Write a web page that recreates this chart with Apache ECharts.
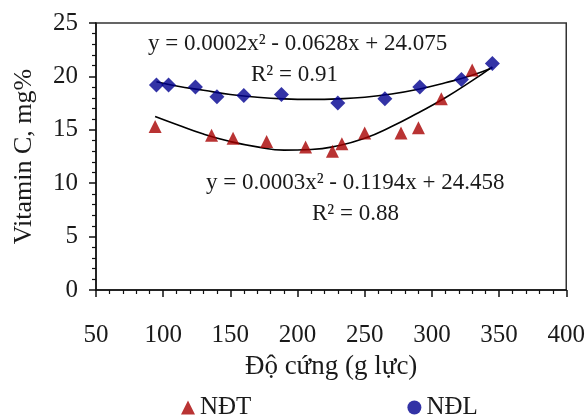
<!DOCTYPE html>
<html>
<head>
<meta charset="utf-8">
<script src="https://cdn.jsdelivr.net/npm/echarts@6/dist/echarts.min.js"></script>
<style>html,body{margin:0;padding:0;background:#fff}#c{width:588px;height:419px}</style>
</head>
<body>
<div id="c"></div>
<script>
// NĐT (red triangles) measured points [hardness, vitamin C]
var ndtX = [94, 136, 152, 177, 206, 226, 233, 250, 277, 290, 307, 330];
var ndtY = [15.3, 14.5, 14.2, 13.9, 13.4, 13.0, 13.7, 14.7, 14.7, 15.2, 17.9, 20.6];
// NĐL (blue diamonds)
var ndlX = [95, 104, 124, 140, 160, 188, 230, 265, 291, 322, 345];
var ndlY = [19.2, 19.2, 19.0, 18.1, 18.2, 18.3, 17.5, 17.9, 19.0, 19.7, 21.2];
// Trend curves
var trendNdtX = [94, 110, 130, 150, 170, 190, 210, 230, 250, 270, 290, 310, 330, 345];
var trendNdtY = [16.25, 15.5, 14.6, 13.9, 13.4, 13.1, 13.15, 13.5, 14.2, 15.3, 16.6, 18.0, 19.6, 20.9];
var trendNdlX = [95, 110, 130, 150, 170, 190, 210, 230, 250, 270, 290, 310, 330, 345];
var trendNdlY = [19.5, 19.1, 18.7, 18.3, 18.05, 17.9, 17.85, 17.9, 18.05, 18.35, 18.8, 19.4, 20.1, 20.8];
var xTicks = [50, 100, 150, 200, 250, 300, 350, 400];
var yTicks = [0, 5, 10, 15, 20, 25];
var eqNdl = 'y = 0.0002x² - 0.0628x + 24.075';
var r2Ndl = 'R² = 0.91';
var eqNdt = 'y = 0.0003x² - 0.1194x + 24.458';
var r2Ndt = 'R² = 0.88';

function pairs(xs, ys){ return xs.map(function(x,i){ return [x, ys[i]]; }); }

var FONT = '"Liberation Serif", "Times New Roman", serif';
var TXT = '#1a1a1a';
var RED = '#A80000', BLUE = '#000090';
var chart = echarts.init(document.getElementById('c'));
chart.setOption({
  animation: false,
  textStyle: { fontFamily: FONT, color: TXT },
  grid: { left: 96, top: 23, width: 471, height: 267, show: true, borderColor: '#333', borderWidth: 1.5, backgroundColor: 'transparent' },
  xAxis: {
    type: 'value', min: xTicks[0], max: xTicks[xTicks.length-1], interval: 50,
    name: 'Độ cứng (g lực)', nameLocation: 'middle', nameGap: 63,
    nameTextStyle: { fontFamily: FONT, fontSize: 27, color: TXT },
    axisLine: { lineStyle: { color: '#111', width: 1.5 } },
    axisTick: { length: 7, lineStyle: { color: '#111', width: 1.5 } },
    minorTick: { show: true, splitNumber: 5, length: 4, lineStyle: { color: '#111', width: 1.2 } },
    axisLabel: { fontFamily: FONT, fontSize: 25, color: TXT, margin: 33 },
    splitLine: { show: false }
  },
  yAxis: {
    type: 'value', min: yTicks[0], max: yTicks[yTicks.length-1], interval: 5,
    name: 'Vitamin C, mg%', nameLocation: 'middle', nameGap: 59, nameRotate: 90,
    nameTextStyle: { fontFamily: FONT, fontSize: 26, color: TXT },
    axisLine: { show: true, lineStyle: { color: '#111', width: 1.5 } },
    axisTick: { show: true, length: 7, lineStyle: { color: '#111', width: 1.5 } },
    minorTick: { show: true, splitNumber: 5, length: 4, lineStyle: { color: '#111', width: 1.2 } },
    axisLabel: { fontFamily: FONT, fontSize: 25, color: TXT, margin: 18 },
    splitLine: { show: false }
  },
  legend: {
    left: 176, top: 390, itemGap: 156, itemWidth: 14, itemHeight: 14,
    textStyle: { fontFamily: FONT, fontSize: 25, color: TXT },
    data: [{ name: 'NĐT', icon: 'triangle' }, { name: 'NĐL', icon: 'circle' }]
  },
  graphic: [
    { type: 'text', left: 148, top: 32, style: { text: eqNdl, font: '23px ' + FONT, fill: TXT } },
    { type: 'text', left: 251, top: 63, style: { text: r2Ndl, font: '23px ' + FONT, fill: TXT } },
    { type: 'text', left: 206, top: 171, style: { text: eqNdt, font: '23px ' + FONT, fill: TXT } },
    { type: 'text', left: 312, top: 202, style: { text: r2Ndt, font: '23px ' + FONT, fill: TXT } }
  ],
  series: [
    { name: 'trendNDL', type: 'line', data: pairs(trendNdlX, trendNdlY), smooth: true, symbol: 'none',
      lineStyle: { color: '#000', width: 1.6 }, z: 3 },
    { name: 'trendNDT', type: 'line', data: pairs(trendNdtX, trendNdtY), smooth: true, symbol: 'none',
      lineStyle: { color: '#000', width: 1.6 }, z: 3 },
    { name: 'NĐT', type: 'scatter', data: pairs(ndtX, ndtY), symbol: 'triangle', symbolSize: 13,
      itemStyle: { color: RED }, z: 4 },
    { name: 'NĐL', type: 'scatter', data: pairs(ndlX, ndlY), symbol: 'diamond', symbolSize: 15,
      itemStyle: { color: BLUE }, z: 4 }
  ]
});
</script>
</body>
</html>
